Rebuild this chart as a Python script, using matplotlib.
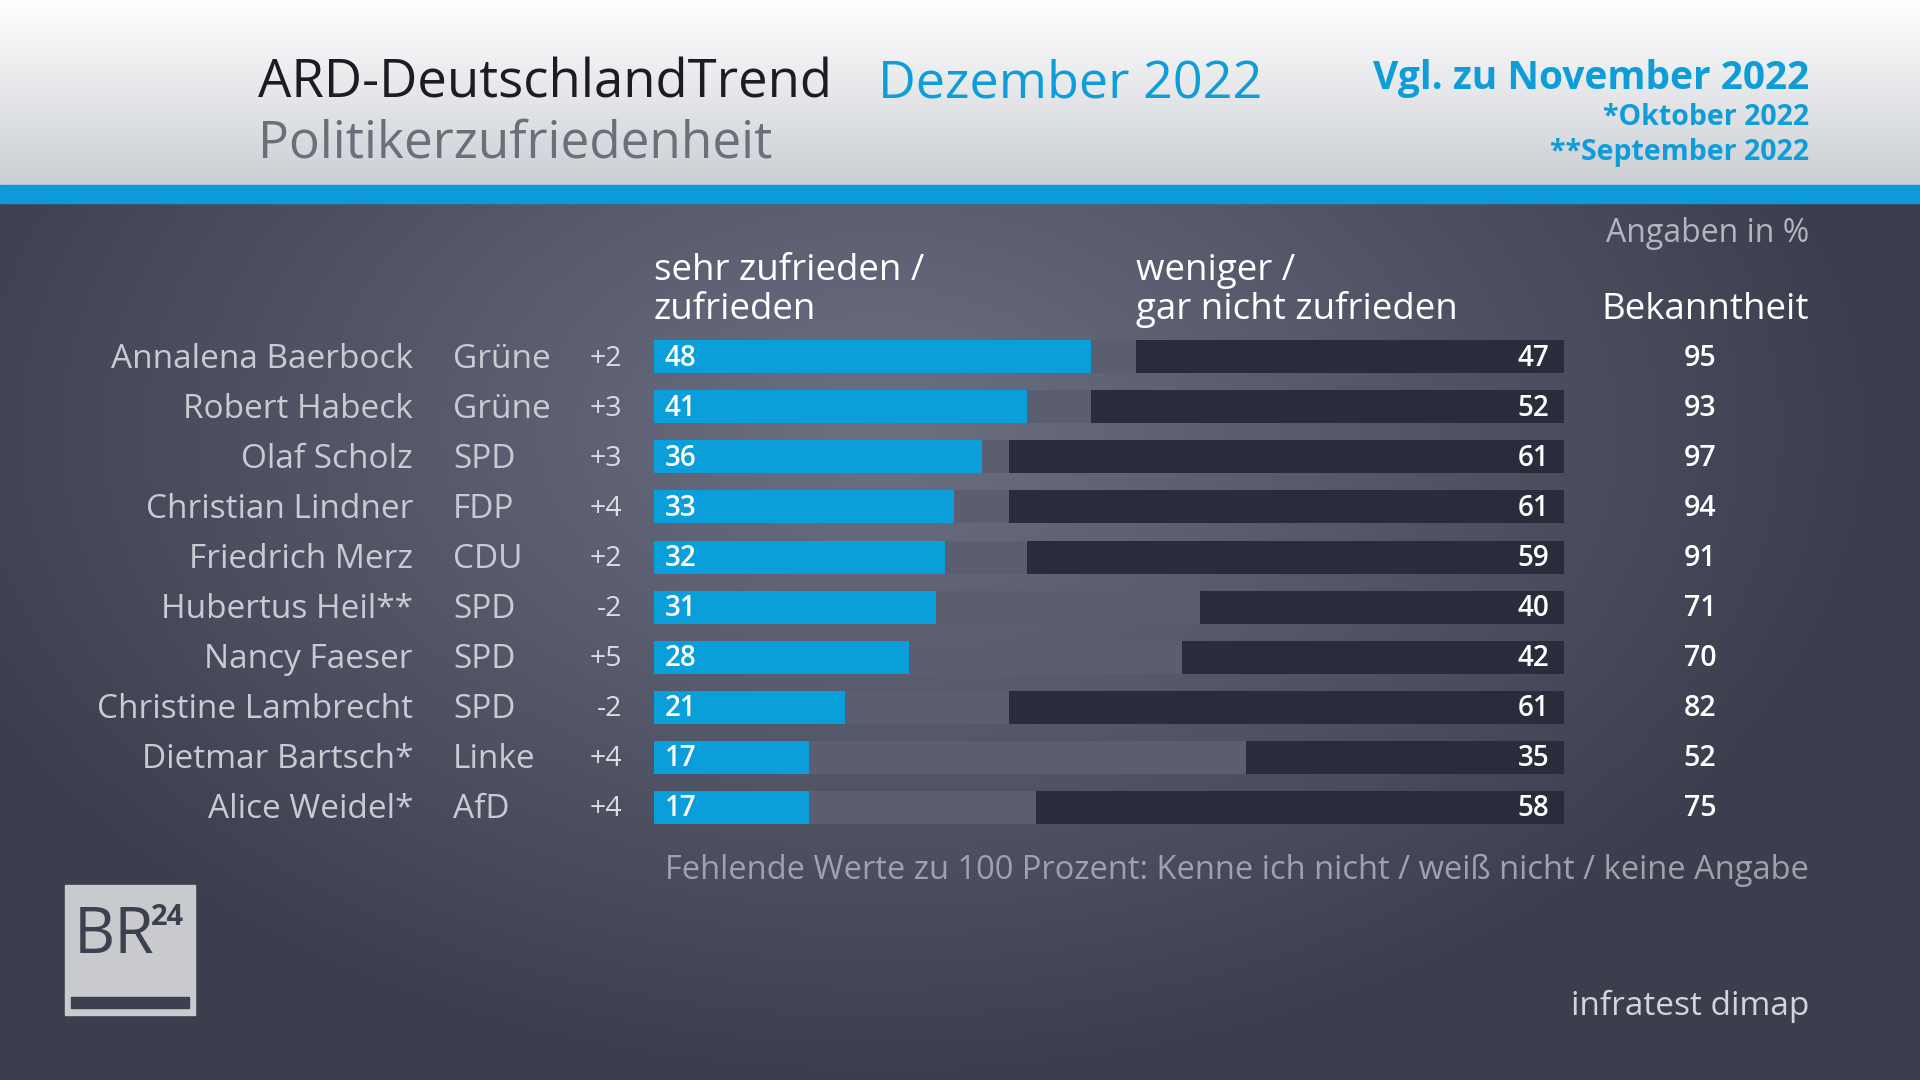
import numpy as np
import matplotlib
matplotlib.use("Agg")
import matplotlib.pyplot as plt
from matplotlib.patches import Rectangle

plt.rcParams['font.family'] = ['Open Sans', 'DejaVu Sans']

names = ["Annalena Baerbock", "Robert Habeck", "Olaf Scholz", "Christian Lindner",
         "Friedrich Merz", "Hubertus Heil**", "Nancy Faeser", "Christine Lambrecht",
         "Dietmar Bartsch*", "Alice Weidel*"]
parties = ["Grüne", "Grüne", "SPD", "FDP", "CDU", "SPD", "SPD", "SPD", "Linke", "AfD"]
changes = ["+2", "+3", "+3", "+4", "+2", "-2", "+5", "-2", "+4", "+4"]
satisfied = [48, 41, 36, 33, 32, 31, 28, 21, 17, 17]
unsatisfied = [47, 52, 61, 61, 59, 40, 42, 61, 35, 58]
known = [95, 93, 97, 94, 91, 71, 70, 82, 52, 75]

W, H = 1920, 1080
fig = plt.figure(figsize=(19.2, 10.8), dpi=100)

# background axes in pixel coordinates
bg = fig.add_axes([0, 0, 1, 1])
bg.set_xlim(0, W)
bg.set_ylim(H, 0)
bg.axis('off')

# dark radial gradient background
yy, xx = np.mgrid[0:H, 0:W]
d = np.sqrt(((xx - 880) / 1000.0) ** 2 + ((yy - 430) / 650.0) ** 2)
d = np.clip(d, 0, 1)
c_in = np.array([0x6c, 0x70, 0x83]) / 255.0
c_out = np.array([0x3b, 0x3e, 0x4d]) / 255.0
img = c_in[None, None, :] * (1 - d[..., None]) + c_out[None, None, :] * d[..., None]
bg.imshow(img, extent=[0, W, H, 0], aspect='auto', zorder=0)

# header gradient
g = np.linspace(0, 1, 100)[:, None]
top = np.array([1.0, 1.0, 1.0])
bot = np.array([0xcc, 0xcf, 0xd4]) / 255.0
himg = top[None, None, :] * (1 - g[..., None]) + bot[None, None, :] * g[..., None]
himg = np.repeat(himg, 2, axis=1)
bg.imshow(himg, extent=[0, W, 185, 0], aspect='auto', zorder=1)
bg.add_patch(Rectangle((0, 185), W, 18, color='#0c9bd8', zorder=2))

BLUE = '#0f9dd9'
# header texts
bg.text(258, 97, "ARD-DeutschlandTrend", fontsize=38, color='#1c1c24', va='baseline', ha='left', zorder=3)
bg.text(878, 97, "Dezember 2022", fontsize=37.5, color=BLUE, va='baseline', ha='left', zorder=3)
bg.text(258, 158, "Politikerzufriedenheit", fontsize=37, color='#6b6f7a', va='baseline', ha='left', zorder=3)
bg.text(1809, 89, "Vgl. zu November 2022", fontsize=28, color=BLUE, fontweight='bold', va='baseline', ha='right', zorder=3)
bg.text(1809, 125, "*Oktober 2022", fontsize=20.5, color=BLUE, fontweight='bold', va='baseline', ha='right', zorder=3)
bg.text(1809, 160, "**September 2022", fontsize=20.5, color=BLUE, fontweight='bold', va='baseline', ha='right', zorder=3)

LIGHT = '#c9cbd3'
bg.text(1809, 233, "Angaben in %", fontsize=23, color='#b3b6c1', va='center', ha='right', zorder=3)
bg.text(654, 271, "sehr zufrieden /", fontsize=26.5, color='#ffffff', va='center', ha='left', zorder=3)
bg.text(654, 310, "zufrieden", fontsize=26.5, color='#ffffff', va='center', ha='left', zorder=3)
bg.text(1136, 271, "weniger /", fontsize=26.5, color='#ffffff', va='center', ha='left', zorder=3)
bg.text(1136, 310, "gar nicht zufrieden", fontsize=26.5, color='#ffffff', va='center', ha='left', zorder=3)
bg.text(1809, 310, "Bekanntheit", fontsize=26.5, color='#ffffff', va='center', ha='right', zorder=3)

bg.text(1809, 870, "Fehlende Werte zu 100 Prozent: Kenne ich nicht / weiß nicht / keine Angabe",
        fontsize=23.5, color='#9ea1ae', va='center', ha='right', zorder=3)
bg.text(1809, 1006, "infratest dimap", fontsize=24, color='#d3d5db', va='center', ha='right', zorder=3)

# BR24 logo
bg.add_patch(Rectangle((65, 885), 130, 130, color='#c9cace', zorder=3))
bg.add_patch(Rectangle((71, 997), 118, 11, color='#3d404f', zorder=4))
bg.text(74, 953, "BR", fontsize=46, color='#3d404f', va='baseline', ha='left', zorder=4)
bg.text(151, 925, "24", fontsize=21, color='#3d404f', fontweight='bold', va='baseline', ha='left', zorder=4)

# bar axes
row0, step = 357, 50
n = len(names)
top_px = row0 - step / 2
ax = fig.add_axes([654 / W, 1 - (top_px + n * step) / H, 910 / W, n * step / H])
ax.set_xlim(0, 100)
ax.set_ylim(n - 0.5, -0.5)
ax.axis('off')
ax.patch.set_alpha(0)
y = np.arange(n)
bh = 0.66
ax.barh(y, [100] * n, height=bh, color='#5a5e70', zorder=1)
ax.barh(y, satisfied, height=bh, color='#0a9fda', zorder=2)
ax.barh(y, unsatisfied, left=[100 - u for u in unsatisfied], height=bh, color='#2a2c3b', zorder=2)
for i in range(n):
    ax.text(1.2, i + 0.04, str(satisfied[i]), color='white', fontsize=20, fontweight='semibold', va='center', ha='left', zorder=3)
    ax.text(98.4, i + 0.04, str(unsatisfied[i]), color='white', fontsize=20, fontweight='semibold', va='center', ha='right', zorder=3)

# row labels in pixel coords
for i in range(n):
    yc = row0 + step * i + 2
    bg.text(413, yc, names[i], fontsize=24, color=LIGHT, va='center', ha='right', zorder=3)
    bg.text(453, yc, parties[i], fontsize=24, color=LIGHT, va='center', ha='left', zorder=3)
    bg.text(622, yc, changes[i], fontsize=20.5, color='#dcdde3', va='center', ha='right', zorder=3)
    bg.text(1700, yc, str(known[i]), fontsize=20.5, color='white', fontweight='semibold', va='center', ha='center', zorder=3)

fig.savefig("out.png", dpi=100)
